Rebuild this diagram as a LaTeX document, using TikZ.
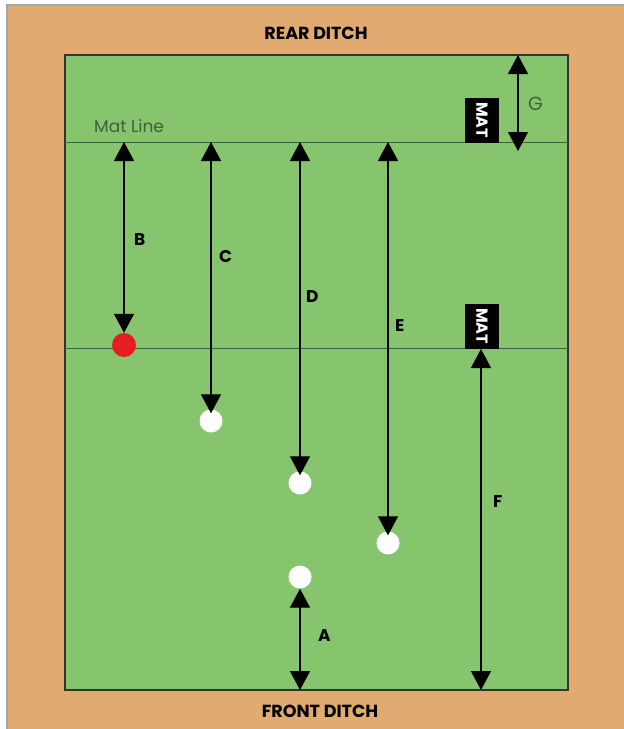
\documentclass[tikz,border=0pt]{standalone}
\usepackage{fontspec}
\setmainfont{Poppins}
\usetikzlibrary{positioning}
\usetikzlibrary{arrows.meta}
\definecolor{bank}{RGB}{224,170,112}
\definecolor{rink}{RGB}{134,197,110}
\definecolor{matline}{RGB}{62,96,58}
\definecolor{jackred}{RGB}{230,30,36}

\begin{document}
\begin{tikzpicture}[x=1pt, y=-1pt,
    meas/.style={draw=black, line width=1.3pt, {Triangle[width=20pt,length=19pt]}-{Triangle[width=20pt,length=19pt]}},
    down/.style={draw=black, line width=1.3pt, {Triangle[width=20pt,length=19pt]}-{Triangle[width=20pt,length=19pt]}},
    bowl/.style={circle, fill=white, minimum size=23pt, inner sep=0pt},
    jack/.style={circle, fill=jackred, minimum size=24pt, inner sep=0pt},
    lbl/.style={font=\bfseries\fontsize{17}{17}\selectfont, text=black, anchor=west, inner sep=0pt},
    ditch/.style={font=\bfseries\fontsize{17.5}{17.5}\selectfont},
    matbox/.style={fill=black, text=white, rotate=-90, font=\bfseries\fontsize{16}{16}\selectfont,
                   minimum width=45pt, minimum height=34pt, inner sep=0pt}]
    \useasboundingbox (0,0) rectangle (624,729);
    \fill[white] (0,0) rectangle (624,729);

    % Bank and rink
    \draw[fill=bank, draw=gray!70, line width=1.2pt] (7,5) rectangle (630,735);
    \draw[fill=rink, draw=black!80, line width=1.2pt] (65,55) rectangle (568,690);
    \node[ditch] (rear) at (316,33) {REAR DITCH};
    \node[ditch] (front) at (320,711) {FRONT DITCH};

    % Mat lines
    \draw[matline, line width=0.9pt] (65,142) -- (568,142);
    \draw[matline, line width=0.9pt] (65,348) -- (568,348);
    \node[anchor=west, text=matline, font=\fontsize{17}{17}\selectfont, inner sep=0pt] (matlbl) at (94,126) {Mat Line};

    % Mats
    \node[matbox] (mat1) at (482,120) {MAT};
    \node[matbox] (mat2) at (482,326) {MAT};

    % Jack and bowls
    \node[jack] (jk) at (124,345) {};
    \node[bowl] (bc) at (211,421) {};
    \node[bowl] (bd) at (300,483) {};
    \node[bowl] (be) at (388,543) {};
    \node[bowl] (ba) at (300,577) {};

    % Measuring points on the lines
    \foreach \n/\x in {b/124, c/211, d/300, e/388} {
        \coordinate (top\n) at (\x,142);
    }
    \coordinate (ditcha) at (300,690);
    \coordinate (ditchf) at (481,690);
    \coordinate (topf) at (481,349);
    \coordinate (reartop) at (518,55);
    \coordinate (rearbot) at (518,151);

    % Distances
    \draw[down] (topb) -- (jk);
    \draw[down] (topc) -- ([yshift=-4pt]bc.north);
    \draw[down] (topd) -- ([yshift=-4pt]bd.north);
    \draw[down] (tope) -- ([yshift=-4pt]be.north);
    \draw[meas] (ba) -- (ditcha);
    \draw[meas] (topf) -- (ditchf);
    \draw[meas] (reartop) -- (rearbot);

    % Labels
    \node[lbl] (lb) at (134,240) {B};
    \node[lbl] (lc) at (219,257) {C};
    \node[lbl] (ld) at (306,297) {D};
    \node[lbl] (le) at (395,326) {E};
    \node[lbl] (la) at (318,636) {A};
    \node[lbl] (lf) at (493,502) {F};
    \node[lbl, font=\fontsize{19}{19}\selectfont, text=matline] (lg) at (528,104) {G};
\end{tikzpicture}
\end{document}
